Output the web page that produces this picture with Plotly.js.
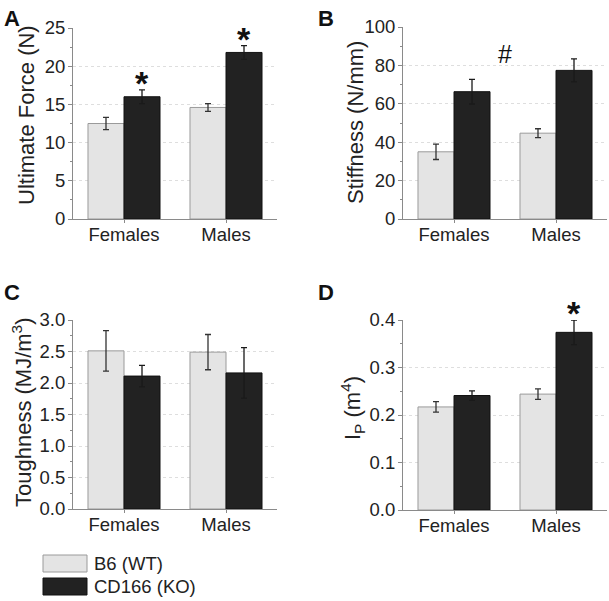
<!DOCTYPE html>
<html>
<head>
<meta charset="utf-8">
<script src="https://cdn.plot.ly/plotly-3.0.1.min.js"></script>
<style>html,body{margin:0;padding:0;background:#fff;}#chart{width:609px;height:601px;}</style>
</head>
<body>
<div id="chart"></div>
<script>
const categories = ['Females', 'Males'];
const seriesNames = ['B6 (WT)', 'CD166 (KO)'];
const panelLabels = ['A', 'B', 'C', 'D'];
const yTitles = ['Ultimate Force (N)', 'Stiffness (N/mm)', 'Toughness (MJ/m<sup>3</sup>)', 'I<sub>P</sub> (m<sup>4</sup>)'];

const forceWT = [12.5, 14.6];
const forceWTErr = [0.8, 0.5];
const forceKO = [16.0, 21.8];
const forceKOErr = [0.9, 0.9];

const stiffWT = [35.0, 44.7];
const stiffWTErr = [4.0, 2.3];
const stiffKO = [66.3, 77.4];
const stiffKOErr = [6.4, 6.0];

const toughWT = [2.51, 2.49];
const toughWTErr = [0.32, 0.28];
const toughKO = [2.11, 2.16];
const toughKOErr = [0.17, 0.40];

const ipWT = [0.217, 0.244];
const ipWTErr = [0.011, 0.011];
const ipKO = [0.241, 0.374];
const ipKOErr = [0.010, 0.026];

const FONT = '"Liberation Sans", Arial, sans-serif';
const W = 609, H = 601;
const lightFill = '#e4e4e4', lightLine = '#9a9a9a';
const darkFill = '#222222', darkLine = '#111111';

const panels = [
  {wt: forceWT, wtE: forceWTErr, ko: forceKO, koE: forceKOErr, range: [0, 25], dtick: 5, fmt: '', px: [73, 277], py: [28, 219], tx: 26, ty: 115},
  {wt: stiffWT, wtE: stiffWTErr, ko: stiffKO, koE: stiffKOErr, range: [0, 100], dtick: 20, fmt: '', px: [403, 607], py: [27, 219], tx: 355, ty: 123},
  {wt: toughWT, wtE: toughWTErr, ko: toughKO, koE: toughKOErr, range: [0, 3], dtick: 0.5, fmt: '.1f', px: [73, 277], py: [320, 509], tx: 22, ty: 412},
  {wt: ipWT, wtE: ipWTErr, ko: ipKO, koE: ipKOErr, range: [0, 0.4], dtick: 0.1, fmt: '.1f', px: [403, 607], py: [320, 510], tx: 353, ty: 408}
];

const traces = [];
const layout = {
  width: W, height: H,
  margin: {l: 0, r: 0, t: 0, b: 0},
  paper_bgcolor: '#fff', plot_bgcolor: 'rgba(0,0,0,0)',
  font: {family: FONT, color: '#222', size: 18},
  barmode: 'group', bargap: 0.294, bargroupgap: 0,
  showlegend: false,
  annotations: [], shapes: []
};

panels.forEach((p, i) => {
  const n = i + 1;
  const xa = n === 1 ? 'x' : 'x' + n;
  const ya = n === 1 ? 'y' : 'y' + n;
  traces.push({
    type: 'bar', x: categories, y: p.wt, name: seriesNames[0], xaxis: xa, yaxis: ya,
    marker: {color: lightFill, line: {color: lightLine, width: 1}},
    error_y: {type: 'data', array: p.wtE, visible: true, color: '#333', thickness: 1.3, width: 3}
  });
  traces.push({
    type: 'bar', x: categories, y: p.ko, name: seriesNames[1], xaxis: xa, yaxis: ya,
    marker: {color: darkFill, line: {color: darkLine, width: 1}},
    error_y: {type: 'data', array: p.koE, visible: true, color: '#1a1a1a', thickness: 1.3, width: 3}
  });
  const xkey = n === 1 ? 'xaxis' : 'xaxis' + n;
  const ykey = n === 1 ? 'yaxis' : 'yaxis' + n;
  layout[xkey] = {
    domain: [p.px[0] / W, p.px[1] / W], anchor: ya,
    type: 'category', range: [-0.5, 1.5],
    showline: true, linecolor: '#8a8a8a', linewidth: 1,
    ticks: 'outside', ticklen: 3, tickcolor: '#8a8a8a',
    ticklabelstandoff: -4,
    showgrid: false, zeroline: false,
    tickfont: {size: 18.5, color: '#222', family: FONT}
  };
  layout[ykey] = {
    domain: [1 - p.py[1] / H, 1 - p.py[0] / H], anchor: xa,
    range: p.range, dtick: p.dtick, tick0: 0, tickformat: p.fmt,
    showline: true, linecolor: '#8a8a8a', linewidth: 1,
    ticks: 'outside', ticklen: 4, tickcolor: '#8a8a8a',
    ticklabelstandoff: -1,
    minor: {dtick: p.dtick / 2, ticks: 'outside', ticklen: 2, tickcolor: '#8a8a8a', showgrid: false},
    showgrid: true, gridcolor: '#dedede', griddash: 'dot', gridwidth: 1,
    zeroline: false,
    tickfont: {size: 18.5, color: '#222', family: FONT}
  };
  // y-axis title
  layout.annotations.push({
    text: yTitles[i], xref: 'paper', yref: 'paper', textangle: -90,
    x: p.tx / W, y: 1 - p.ty / H, xanchor: 'center', yanchor: 'middle', showarrow: false,
    font: {size: 22, color: '#222', family: FONT}
  });
  // panel letter
  layout.annotations.push({
    text: '<b>' + panelLabels[i] + '</b>', xref: 'paper', yref: 'paper',
    x: (i % 2 === 0 ? 2 : 316) / W, y: 1 - (i < 2 ? 4 : 278) / H,
    xanchor: 'left', yanchor: 'top', showarrow: false,
    font: {size: 22, color: '#111', family: FONT}
  });
});

// significance markers
const starFont = {size: 34, color: '#111', family: FONT};
const koOffset = 0.1765;
layout.annotations.push({text: '<b>*</b>', xref: 'x', yref: 'y', x: 0 + koOffset, y: forceKO[0] + forceKOErr[0], yanchor: 'bottom', xanchor: 'center', showarrow: false, font: starFont, yshift: -14});
layout.annotations.push({text: '<b>*</b>', xref: 'x', yref: 'y', x: 1 + koOffset, y: forceKO[1] + forceKOErr[1], yanchor: 'bottom', xanchor: 'center', showarrow: false, font: starFont, yshift: -14});
layout.annotations.push({text: '<b>*</b>', xref: 'x4', yref: 'y4', x: 1 + koOffset, y: ipKO[1] + ipKOErr[1], yanchor: 'bottom', xanchor: 'center', showarrow: false, font: starFont, yshift: -14});
layout.annotations.push({text: '#', xref: 'x2', yref: 'y2', x: 0.5, y: 85.5, yanchor: 'middle', xanchor: 'center', showarrow: false, font: {size: 25, color: '#111', family: FONT}, yshift: 1});

// legend drawn as swatches + text
const legendRows = [{fill: lightFill, line: lightLine, top: 555}, {fill: darkFill, line: darkLine, top: 578}];
legendRows.forEach((r, k) => {
  layout.shapes.push({type: 'rect', xref: 'paper', yref: 'paper',
    x0: 43 / W, x1: 87 / W, y0: 1 - (r.top + 17) / H, y1: 1 - r.top / H,
    fillcolor: r.fill, line: {color: r.line, width: 1}});
  layout.annotations.push({text: seriesNames[k], xref: 'paper', yref: 'paper',
    x: 92 / W, y: 1 - (r.top + 8.5) / H, xanchor: 'left', yanchor: 'middle', showarrow: false,
    font: {size: 18.5, color: '#222', family: FONT}});
});

Plotly.newPlot('chart', traces, layout, {staticPlot: true, displayModeBar: false});
</script>
</body>
</html>
